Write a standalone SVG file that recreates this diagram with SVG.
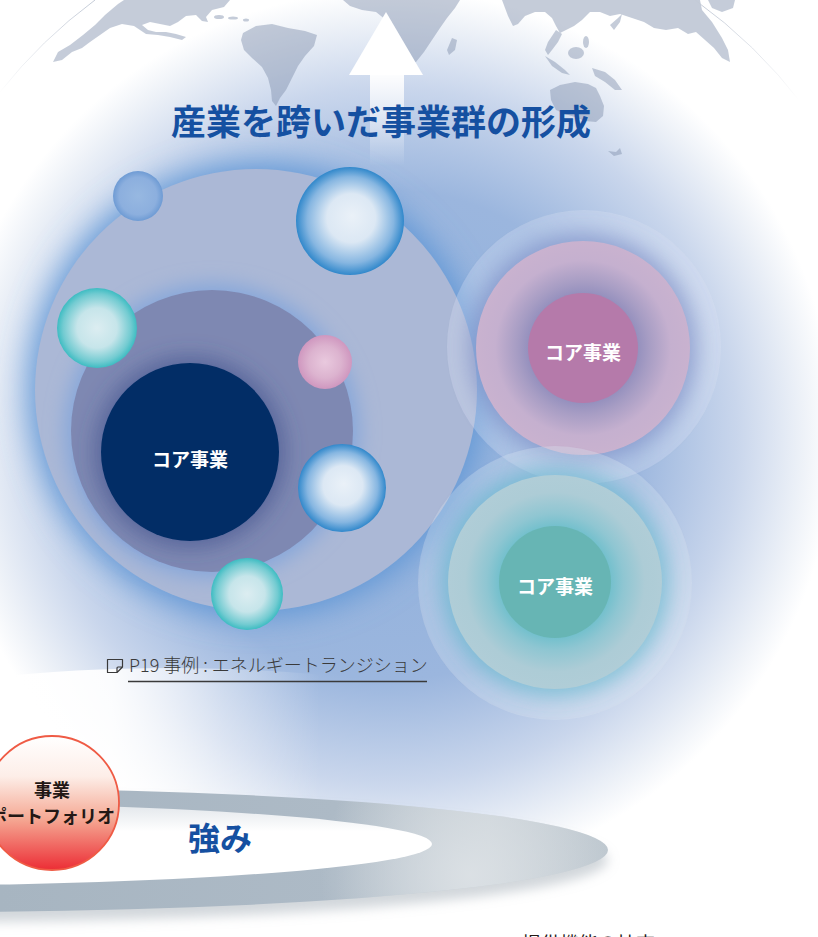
<svg xmlns="http://www.w3.org/2000/svg" width="818" height="937" viewBox="0 0 818 937">
  <style>
    .jp { font-family: "Noto Sans CJK JP", "Noto Sans", sans-serif; }
    .title { font-size: 35px; font-weight: 700; fill: #1550a1; }
    .core { font-size: 19px; font-weight: 700; fill: #ffffff; text-anchor: middle; }
    .land { fill: #7f8fab; fill-opacity: 0.45; }
    .note { font-size: 18px; font-weight: 300; fill: #3a3a3a; }
  </style>
  <defs>
    <radialGradient id="globeShade" gradientUnits="userSpaceOnUse" cx="390" cy="435" r="445">
      <stop offset="0" stop-color="#8fb0dc"/>
      <stop offset="0.55" stop-color="#9bb6de"/>
      <stop offset="0.78" stop-color="#c9d6ec"/>
      <stop offset="0.93" stop-color="#eef2f8"/>
      <stop offset="1" stop-color="#ffffff"/>
    </radialGradient>
    <linearGradient id="platform" gradientUnits="userSpaceOnUse" x1="0" y1="0" x2="320" y2="0">
      <stop offset="0" stop-color="#ffffff" stop-opacity="1"/>
      <stop offset="0.35" stop-color="#ffffff" stop-opacity="0.9"/>
      <stop offset="0.7" stop-color="#ffffff" stop-opacity="0.35"/>
      <stop offset="1" stop-color="#ffffff" stop-opacity="0"/>
    </linearGradient>
    <linearGradient id="shaft" x1="0" y1="0" x2="0" y2="1">
      <stop offset="0" stop-color="#ffffff" stop-opacity="0.95"/>
      <stop offset="1" stop-color="#ffffff" stop-opacity="0"/>
    </linearGradient>
    <linearGradient id="rimLeft" gradientUnits="userSpaceOnUse" x1="95" y1="0" x2="0" y2="95">
      <stop offset="0" stop-color="#c3cad6" stop-opacity="1"/>
      <stop offset="1" stop-color="#c3cad6" stop-opacity="0"/>
    </linearGradient>
    <linearGradient id="rimRight" gradientUnits="userSpaceOnUse" x1="695" y1="0" x2="800" y2="100">
      <stop offset="0" stop-color="#c3cad6" stop-opacity="1"/>
      <stop offset="1" stop-color="#c3cad6" stop-opacity="0"/>
    </linearGradient>
    <radialGradient id="bubbleBlue" cx="0.5" cy="0.5" r="0.5" fx="0.52" fy="0.45">
      <stop offset="0" stop-color="#eaf1f8"/>
      <stop offset="0.45" stop-color="#dce8f4"/>
      <stop offset="0.8" stop-color="#86b6e1"/>
      <stop offset="1" stop-color="#3188cb"/>
    </radialGradient>
    <radialGradient id="bubbleTeal" cx="0.5" cy="0.5" r="0.5" fx="0.5" fy="0.5">
      <stop offset="0" stop-color="#dcedf1"/>
      <stop offset="0.5" stop-color="#c6e5ea"/>
      <stop offset="0.85" stop-color="#72cbd1"/>
      <stop offset="1" stop-color="#3dbcc2"/>
    </radialGradient>
    <radialGradient id="bubblePink" cx="0.5" cy="0.5" r="0.5">
      <stop offset="0" stop-color="#e9c9de"/>
      <stop offset="0.6" stop-color="#dcb3cf"/>
      <stop offset="1" stop-color="#cf97bf"/>
    </radialGradient>
    <radialGradient id="bubbleSky" cx="0.5" cy="0.5" r="0.5">
      <stop offset="0" stop-color="#97b8e1"/>
      <stop offset="0.75" stop-color="#8cafde"/>
      <stop offset="1" stop-color="#6e9bd4"/>
    </radialGradient>
    <radialGradient id="pinkBody" cx="0.5" cy="0.5" r="0.5">
      <stop offset="0.5" stop-color="#938fbd"/>
      <stop offset="0.62" stop-color="#a79dc4"/>
      <stop offset="0.82" stop-color="#c5b0cf"/>
      <stop offset="1" stop-color="#c9b2cf"/>
    </radialGradient>
    <radialGradient id="tealBody" cx="0.5" cy="0.5" r="0.5">
      <stop offset="0.5" stop-color="#6fbfcc"/>
      <stop offset="0.64" stop-color="#8fc6d2"/>
      <stop offset="0.84" stop-color="#adccd6"/>
      <stop offset="1" stop-color="#b0cdd7"/>
    </radialGradient>
    <linearGradient id="bandFill" gradientUnits="userSpaceOnUse" x1="0" y1="0" x2="610" y2="0">
      <stop offset="0" stop-color="#a7b5c1"/>
      <stop offset="0.55" stop-color="#adbac6"/>
      <stop offset="0.8" stop-color="#c8d0d6"/>
      <stop offset="1" stop-color="#bcc6ce"/>
    </linearGradient>
    <radialGradient id="bandGlow" gradientUnits="userSpaceOnUse" cx="470" cy="875" r="150">
      <stop offset="0" stop-color="#dde2e6" stop-opacity="0.9"/>
      <stop offset="1" stop-color="#dde2e6" stop-opacity="0"/>
    </radialGradient>
    <linearGradient id="bandInner" x1="0" y1="0" x2="0" y2="1">
      <stop offset="0" stop-color="#dfe4e9"/>
      <stop offset="0.35" stop-color="#ffffff"/>
      <stop offset="1" stop-color="#ffffff"/>
    </linearGradient>
    <linearGradient id="redBall" x1="0" y1="0" x2="0" y2="1">
      <stop offset="0" stop-color="#ffffff"/>
      <stop offset="0.3" stop-color="#fdeee8"/>
      <stop offset="0.62" stop-color="#f5a893"/>
      <stop offset="1" stop-color="#ec2d35"/>
    </linearGradient>
    <filter id="soft16" x="-30%" y="-30%" width="160%" height="160%"><feGaussianBlur stdDeviation="16"/></filter>
    <filter id="soft10" x="-30%" y="-30%" width="160%" height="160%"><feGaussianBlur stdDeviation="10"/></filter>
    <filter id="soft6" x="-30%" y="-30%" width="160%" height="160%"><feGaussianBlur stdDeviation="6"/></filter>
  </defs>

  <!-- white page and shaded globe -->
  <rect width="818" height="937" fill="#ffffff"/>
  <circle cx="395" cy="406" r="506" fill="url(#globeShade)"/>

  <!-- continents on the globe -->
  <g id="world-map">
    <path class="land" d="M53,62 L58,52 L70,45 L83,35 L95,25 L105,15 L118,4 L124,0 L230,0 L224,7 L212,10 L206,17 L208,22 L202,21 L196,15 L186,16 L178,22 L170,26 L160,24 L150,22 L142,25 L148,30 L156,32 L166,32 L176,34 L186,37 L182,40 L170,37 L158,35 L146,34 L134,26 L122,24 L110,28 L100,35 L90,42 L82,48 L72,52 L62,60 Z"/>
    <ellipse class="land" cx="219" cy="17" rx="5" ry="2"/>
    <ellipse class="land" cx="233" cy="18" rx="5" ry="1.6"/>
    <ellipse class="land" cx="246" cy="20" rx="3" ry="1.5"/>
    <path class="land" d="M243,33 L256,26 L272,24 L288,28 L305,31 L317,35 L314,46 L305,56 L298,66 L292,78 L286,90 L280,98 L276,106 L272,101 L271,90 L268,78 L262,67 L252,58 L244,50 L241,40 Z"/>
    <path class="land" d="M343,0 L460,0 L455,8 L447,18 L440,28 L432,40 L424,52 L416,62 L410,64 L404,56 L398,44 L392,32 L386,20 L376,12 L362,10 L350,6 Z"/>
    <path class="land" d="M452,38 L457,40 L455,50 L449,55 L447,50 Z"/>
    <path class="land" d="M502,0 L700,0 L702,10 L712,22 L722,38 L728,50 L730,62 L722,58 L714,48 L705,40 L696,32 L688,34 L678,28 L666,30 L654,28 L644,22 L632,18 L620,14 L610,16 L600,12 L590,12 L582,20 L574,26 L566,30 L560,33 L556,26 L552,18 L545,12 L535,12 L525,16 L518,24 L513,26 L508,16 Z"/>
    <path class="land" d="M556,30 L562,34 L558,42 L552,50 L548,55 L545,50 L548,42 Z"/>
    <path class="land" d="M545,56 L555,62 L565,70 L570,75 L562,73 L552,66 Z"/>
    <ellipse class="land" cx="576" cy="53" rx="8" ry="6"/>
    <ellipse class="land" cx="586" cy="42" rx="3" ry="6"/>
    <path class="land" d="M592,68 L605,72 L615,80 L622,90 L615,90 L605,82 L595,76 Z"/>
    <path class="land" d="M610,25 L618,18 L622,14 L620,22 L614,30 Z"/>
    <path class="land" d="M708,0 L735,0 L733,8 L722,12 L712,8 Z"/>
    <path class="land" d="M550,90 L560,85 L575,82 L588,84 L596,88 L600,96 L604,106 L603,116 L596,122 L585,121 L575,117 L565,114 L556,110 L551,100 Z"/>
    <path class="land" d="M608,151 L616,152 L620,148 L622,154 L614,156 Z"/>
  </g>
  <!-- globe rim, visible only near the top corners -->
  <path d="M95,0 A506,506 0 0 0 0,92" fill="none" stroke="url(#rimLeft)" stroke-width="1"/>
  <path d="M695,0 A506,506 0 0 1 802,104" fill="none" stroke="url(#rimRight)" stroke-width="1"/>

  <!-- white platform on the lower left -->
  <ellipse cx="170" cy="800" rx="480" ry="132" fill="url(#platform)"/>

  <!-- upward growth arrow -->
  <g id="growth-arrow">
    <rect x="370" y="74" width="34" height="92" fill="url(#shaft)"/>
    <polygon points="386,12 423,75 349,75" fill="#ffffff"/>
  </g>

  <g id="title">
    <text class="jp title" x="381" y="135" text-anchor="middle">産業を跨いだ事業群の形成</text>
  </g>

  <!-- main business cluster -->
  <g id="cluster-main">
    <circle cx="256" cy="390" r="226" fill="#5d95d5" filter="url(#soft16)"/>
    <circle cx="256" cy="390" r="221" fill="#abb8d6"/>
    <circle cx="212" cy="431" r="147" fill="#84a6da" filter="url(#soft10)"/>
    <circle cx="212" cy="431" r="141" fill="#7e88b2"/>
    <circle cx="190" cy="452" r="96" fill="#3b4c88" fill-opacity="0.55" filter="url(#soft10)"/>
    <circle cx="190" cy="452" r="89" fill="#022d66"/>
    <text class="jp core" x="190" y="467">コア事業</text>
  </g>

  <g id="bubbles">
    <circle cx="138" cy="196" r="25" fill="url(#bubbleSky)"/>
    <circle cx="350" cy="221" r="54" fill="url(#bubbleBlue)"/>
    <circle cx="97" cy="328" r="40" fill="url(#bubbleTeal)"/>
    <circle cx="325" cy="362" r="27" fill="url(#bubblePink)"/>
    <circle cx="342" cy="488" r="44" fill="url(#bubbleBlue)"/>
    <circle cx="247" cy="594" r="36" fill="url(#bubbleTeal)"/>
  </g>

  <!-- pink business cluster -->
  <g id="cluster-pink">
    <circle cx="584" cy="347" r="137" fill="#dfe6f4" fill-opacity="0.3"/>
    <circle cx="583" cy="348" r="114" fill="#6f80bd" fill-opacity="0.55" filter="url(#soft10)"/>
    <circle cx="583" cy="348" r="107" fill="url(#pinkBody)"/>
    <circle cx="583" cy="348" r="55" fill="#b57aaa"/>
    <text class="jp core" x="583" y="360">コア事業</text>
  </g>

  <!-- teal business cluster -->
  <g id="cluster-teal">
    <circle cx="555" cy="583" r="137" fill="#dfe8f2" fill-opacity="0.3"/>
    <circle cx="555" cy="582" r="114" fill="#4fb3c8" fill-opacity="0.55" filter="url(#soft10)"/>
    <circle cx="555" cy="582" r="107" fill="url(#tealBody)"/>
    <circle cx="555" cy="582" r="56" fill="#67b5b4"/>
    <text class="jp core" x="555" y="594">コア事業</text>
  </g>

  <!-- case study reference -->
  <g id="case-label">
    <path d="M107.5,659.5 h15 v7.5 l-5.5,5.5 h-9.5 z M122.5,667 h-4.5 q-1,0 -1,1 v4.5" fill="none" stroke="#3a3a3a" stroke-width="1.2" stroke-linejoin="round"/>
    <text class="jp note" x="129" y="672">P19 事例 : エネルギートランジション</text>
    <line x1="128" y1="681.5" x2="427" y2="681.5" stroke="#3a3a3a" stroke-width="1.3"/>
  </g>

  <!-- strengths band -->
  <g id="strength-band">
    <ellipse cx="-66" cy="860" rx="674" ry="62" fill="#9aa5b0" fill-opacity="0.45" filter="url(#soft6)"/>
    <ellipse cx="-66" cy="850" rx="674" ry="62" fill="url(#bandFill)"/>
    <ellipse cx="-66" cy="850" rx="674" ry="62" fill="url(#bandGlow)"/>
    <ellipse cx="-150" cy="844" rx="582" ry="42" fill="url(#bandInner)"/>
    <text class="jp" x="220" y="850" text-anchor="middle" font-size="32" font-weight="700" fill="#1550a1">強み</text>
  </g>

  <g id="portfolio">
    <circle cx="52" cy="803" r="67" fill="url(#redBall)" stroke="#ef5b45" stroke-width="1.8"/>
    <text class="jp" x="52" y="797" text-anchor="middle" font-size="18" font-weight="700" fill="#231815">事業</text>
    <text class="jp" x="52" y="823" text-anchor="middle" font-size="18" font-weight="700" fill="#231815">ポートフォリオ</text>
  </g>

  <g id="function-caption">
    <text class="jp" x="522" y="951" font-size="19" fill="#231815">提供機能の拡充</text>
  </g>
</svg>
